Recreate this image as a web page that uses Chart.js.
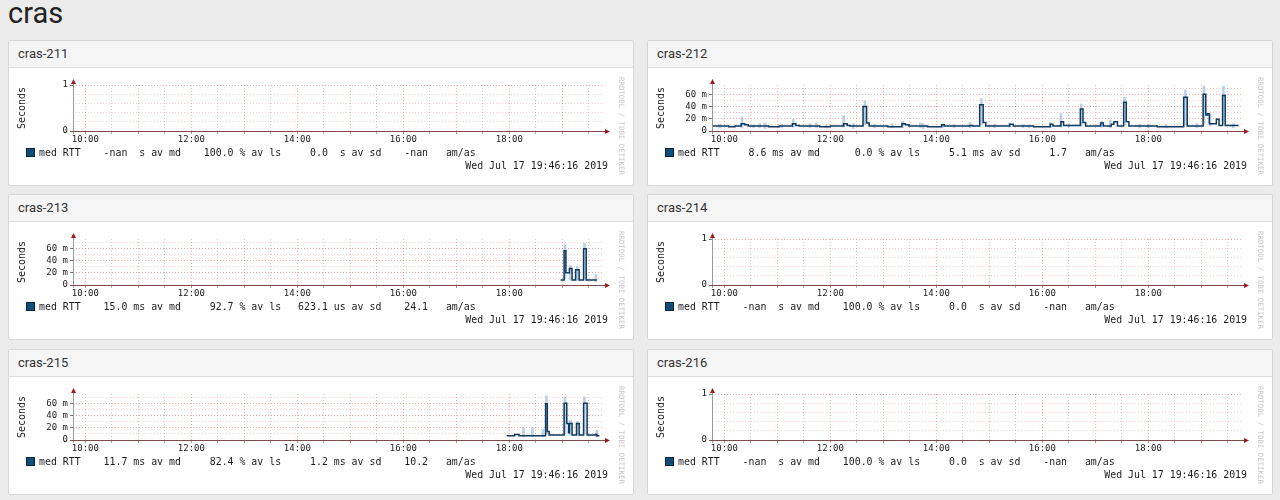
<!DOCTYPE html>
<html>
<head>
<meta charset="utf-8">
<title>cras</title>
<script src="https://cdn.jsdelivr.net/npm/chart.js@4/dist/chart.umd.min.js"></script>
<style>
  body { margin: 0; width: 1280px; height: 500px; overflow: hidden; position: relative; background: #ebebeb; font-family: Roboto, "Liberation Sans", sans-serif; }
  h1 { position: absolute; left: 8px; top: -4px; margin: 0; font-weight: 400; font-size: 29px; color: #222; }
  .panel { position: absolute; width: 624px; height: 144px; background: #fff; border: 1px solid #d6d6d6; border-radius: 2px; }
  .panel .hd { height: 26px; line-height: 26px; background: #f5f5f5; border-bottom: 1px solid #ddd; padding-left: 9px; font-size: 13px; color: #333; }
  .panel .bd { position: relative; height: 117px; }
  .panel canvas { position: absolute; left: 0; top: 0; }
  .leg { position: absolute; left: 17px; top: 79px; font: 9.9px "DejaVu Sans Mono", monospace; color: #1c1c1c; white-space: pre; line-height: 12px; }
  .leg span { display: inline-block; }
  .leg .it { margin-left: 17px; }
  .sw { width: 9px; height: 9px; background: #0e4d78; border: 1px solid #06253d; box-sizing: border-box; vertical-align: -1px; margin-right: 4px; }
  .date { position: absolute; right: 25px; top: 92px; font: 9.9px "DejaVu Sans Mono", monospace; color: #1c1c1c; white-space: pre; line-height: 12px; }
  .credit { position: absolute; left: 608px; top: 9px; writing-mode: vertical-rl; font: 7.4px "DejaVu Sans Mono", monospace; color: #c6c6c6; line-height: 9px; }
</style>
</head>
<body>
<h1>cras</h1>
<script>
// hosts and legend stats
const hosts = ['cras-211', 'cras-212', 'cras-213', 'cras-214', 'cras-215', 'cras-216'];
const medAvg = ['-nan', '8.6', '15.0', '-nan', '11.7', '-nan'];
const medUnit = [' ', 'm', 'm', ' ', 'm', ' '];
const lossAvg = ['100.0', '0.0', '92.7', '100.0', '82.4', '100.0'];
const sdAvg = ['0.0', '5.1', '623.1', '0.0', '1.2', '0.0'];
const sdUnit = [' ', 'm', 'u', ' ', 'm', ' '];
const amas = ['-nan', '1.7', '24.1', '-nan', '10.2', '-nan'];
const stamp = 'Wed Jul 17 19:46:16 2019';

// time window and axis labels
const startTime = '09:46';
const endTime = '19:46';
const xTickLabels = ['10:00', '12:00', '14:00', '16:00', '18:00'];
const yMax = [1, 75, 75, 1, 75, 1];
const yGridMs = [0, 10, 20, 30, 40, 50, 60, 70];
const yLabelValMs = [0, 20, 40, 60];
const yLabelMs = ['0', '20 m', '40 m', '60 m'];
const yGridOne = [0, 0.2, 0.4, 0.6, 0.8, 1];
const yLabelValOne = [0, 1];
const yLabelOne = ['0', '1'];

// cras-212 median RTT (ms), value holds from each time to the next
const times212 = ['09:46','10:05','10:12','10:19','10:23','10:27','10:50','11:02','11:17','11:21','11:25','11:48','12:00','12:15','12:19','12:22','12:37','12:41','12:44','13:05','13:21','13:25','13:29','13:50','14:06','14:09','14:38','14:41','14:49','14:53','14:56','15:23','15:27','15:50','16:09','16:12','16:21','16:24','16:43','16:46','16:49','17:06','17:09','17:18','17:21','17:25','17:32','17:35','17:38','18:10','18:40','18:44','19:02','19:05','19:07','19:09','19:17','19:20','19:24','19:27','19:42'];
const rtt212 = [8,7,8,12,10,8,7,8,12,9,8,7,8,12,9,8,40,13,8,7,12,10,8,7,10,8,9,8,43,14,8,11,8,7,11,8,15,9,36,14,8,13,8,11,15,8,47,15,8,7,55,8,60,26,28,12,19,9,58,9,9];
const smokeT212 = ['09:55','10:20','10:33','10:40','10:46','11:05','11:18','11:37','11:44','11:55','12:15','12:26','12:39','12:50','13:10','13:22','13:42','13:45','14:08','14:20','14:38','14:51','15:06','15:23','15:38','15:45','16:09','16:21','16:30','16:44','17:07','17:17','17:33','17:50','18:00','18:20','18:42','18:55','19:03','19:10','19:25','19:36'];
const smokeLo212 = [5,5,5,5,4,5,6,5,5,5,6,4,10,5,5,6,5,4,6,5,5,10,5,6,5,5,6,6,6,8,6,5,10,5,5,5,10,5,12,8,12,5];
const smokeHi212 = [11,23,10,12,13,11,19,12,13,10,25,12,50,11,12,16,13,12,12,11,14,53,11,13,11,10,14,28,12,44,16,18,55,11,11,11,67,12,73,28,73,12];

// cras-213
const times213 = ['18:58','19:02','19:04','19:08','19:11','19:15','19:19','19:24','19:27','19:39'];
const rtt213 = [8,56,20,27,8,25,8,59,8,8];
const smokeT213 = ['19:03','19:09','19:17','19:25','19:38'];
const smokeLo213 = [10,8,8,10,5];
const smokeHi213 = [66,32,30,68,17];

// cras-215
const times215 = ['17:57','18:06','18:11','18:41','18:43','18:45','19:02','19:05','19:07','19:08','19:11','19:16','19:19','19:24','19:28','19:37','19:39','19:42'];
const rtt215 = [7,9,7,59,14,8,60,27,12,27,8,27,8,60,8,9,7,7];
const smokeT215 = ['18:16','18:26','18:38','18:42','19:03','19:09','19:17','19:25','19:39'];
const smokeLo215 = [5,5,5,10,10,8,8,10,5];
const smokeHi215 = [20,20,18,72,70,32,30,70,16];

const series = {
  'cras-212': { t: times212, v: rtt212, st: smokeT212, lo: smokeLo212, hi: smokeHi212 },
  'cras-213': { t: times213, v: rtt213, st: smokeT213, lo: smokeLo213, hi: smokeHi213 },
  'cras-215': { t: times215, v: rtt215, st: smokeT215, lo: smokeLo215, hi: smokeHi215 }
};

function clock(s) { const p = s.split(':'); return +p[0] * 60 + +p[1]; }
const t0 = clock(startTime);
function mins(s) { return clock(s) - t0; }
function fmt(m) { const h = Math.floor(m / 60), mm = m % 60; return String(h).padStart(2, '0') + ':' + String(mm).padStart(2, '0'); }

// rrdtool GPRINT-like legend items
function legendHtml(i) {
  const items = [
    'med RTT',
    medAvg[i].padStart(5) + ' ' + medUnit[i] + 's av md ',
    lossAvg[i].padStart(5) + ' % av ls',
    sdAvg[i].padStart(5) + ' ' + sdUnit[i] + 's av sd',
    amas[i].padStart(5) + '   am/as'
  ];
  return '<span class="sw"></span>' + items.map((t, k) => '<span' + (k ? ' class="it"' : '') + '>' + t + '</span>').join('');
}

const panelLeft = [8, 647];
const panelTop = [40, 194, 349];
const tickFont = { family: 'DejaVu Sans Mono', size: 9 };

// rrdtool style axis lines with arrow heads
const rrdAxes = {
  id: 'rrdAxes',
  afterDraw(chart) {
    const ctx = chart.ctx, a = chart.chartArea;
    const lx = Math.round(a.left) + 0.5, by = Math.round(a.bottom) + 0.5;
    ctx.save();
    ctx.lineWidth = 1;
    ctx.strokeStyle = '#9a9a9a';
    ctx.beginPath(); ctx.moveTo(lx, a.bottom + 3); ctx.lineTo(lx, a.top - 2); ctx.stroke();
    ctx.strokeStyle = '#7d4b4b';
    ctx.beginPath(); ctx.moveTo(a.left - 3, by); ctx.lineTo(a.right + 2, by); ctx.stroke();
    ctx.fillStyle = '#9e1c1c';
    ctx.beginPath(); ctx.moveTo(lx, a.top - 6); ctx.lineTo(lx - 2.5, a.top - 1); ctx.lineTo(lx + 2.5, a.top - 1); ctx.closePath(); ctx.fill();
    ctx.beginPath(); ctx.moveTo(a.right + 7, by); ctx.lineTo(a.right + 2, by - 2.5); ctx.lineTo(a.right + 2, by + 2.5); ctx.closePath(); ctx.fill();
    ctx.restore();
  }
};

hosts.forEach(function(host, i) {
  const panel = document.createElement('div');
  panel.className = 'panel';
  panel.style.left = panelLeft[i % 2] + 'px';
  panel.style.top = panelTop[Math.floor(i / 2)] + 'px';
  panel.innerHTML = '<div class="hd">' + host + '</div>' +
    '<div class="bd"><canvas width="624" height="117"></canvas>' +
    '<div class="leg">' + legendHtml(i) + '</div>' +
    '<div class="date">' + stamp + '</div>' +
    '<div class="credit">RRDTOOL / TOBI OETIKER</div></div>';
  document.body.appendChild(panel);

  const isMs = yMax[i] !== 1;
  const yGrid = isMs ? yGridMs : yGridOne;
  const yLabVals = isMs ? yLabelValMs : yLabelValOne;
  const yLabs = isMs ? yLabelMs : yLabelOne;

  const s = series[host];
  const datasets = [];
  if (s) {
    datasets.push({
      type: 'bar',
      data: s.st.map((t, k) => ({ x: mins(t), y: [s.lo[k], s.hi[k]] })),
      backgroundColor: 'rgba(140,180,215,0.6)',
      barThickness: 2,
      grouped: false,
      order: 2
    });
    datasets.push({
      type: 'line',
      data: s.t.map((t, k) => ({ x: mins(t), y: s.v[k] })),
      borderColor: '#0d3a60',
      borderWidth: 1.5,
      pointRadius: 0,
      stepped: true,
      order: 1
    });
  } else {
    datasets.push({ type: 'line', data: [], pointRadius: 0 });
  }

  const ctx = panel.querySelector('canvas').getContext('2d');
  new Chart(ctx, {
    type: 'line',
    data: { datasets: datasets },
    plugins: [rrdAxes],
    options: {
      responsive: false,
      animation: false,
      layout: { padding: { top: 17, right: 30, left: 0, bottom: 0 } },
      plugins: { legend: { display: false }, tooltip: { enabled: false } },
      scales: {
        x: {
          type: 'linear',
          offset: false,
          min: 0,
          max: mins(endTime),
          afterBuildTicks: function(scale) {
            const ticks = [];
            for (let m = clock('10:00'); m < clock(endTime); m += 30) ticks.push({ value: m - t0 });
            scale.ticks = ticks;
          },
          afterFit: function(scale) { scale.height = 54; },
          ticks: {
            autoSkip: false, maxRotation: 0, padding: 0, font: tickFont, color: '#222',
            callback: function(v) { const l = fmt(v + t0); return xTickLabels.includes(l) ? l : ''; }
          },
          grid: {
            offset: false,
            tickLength: 3,
            color: function(c) { return c.tick && (c.tick.value + t0) % 60 === 0 ? 'rgba(235,120,120,0.55)' : 'rgba(150,150,150,0.45)'; },
            tickColor: function(c) { return c.tick && (c.tick.value + t0) % 60 === 0 ? 'rgba(200,100,100,0.8)' : 'rgba(140,140,140,0.7)'; }
          },
          border: { display: false, dash: [1, 2] }
        },
        y: {
          min: 0,
          max: yMax[i],
          afterBuildTicks: function(scale) { scale.ticks = yGrid.map(v => ({ value: v })); },
          afterFit: function(scale) { scale.width = 64; },
          ticks: {
            autoSkip: false, padding: 2, font: tickFont, color: '#222',
            callback: function(v) { const k = yLabVals.indexOf(v); return k >= 0 ? yLabs[k] : ''; }
          },
          title: {
            display: true, text: 'Seconds', color: '#222',
            font: { family: 'DejaVu Sans Mono', size: 10 },
            padding: { top: 7, bottom: 0 }
          },
          grid: {
            tickLength: 3,
            color: function(c) { return c.tick && yLabVals.includes(c.tick.value) ? 'rgba(235,110,110,0.6)' : 'rgba(235,130,130,0.4)'; },
            tickColor: function(c) { return c.tick && yLabVals.includes(c.tick.value) ? '#777' : 'rgba(0,0,0,0)'; }
          },
          border: { display: false, dash: [1, 2] }
        }
      }
    }
  });
});
</script>
</body>
</html>
